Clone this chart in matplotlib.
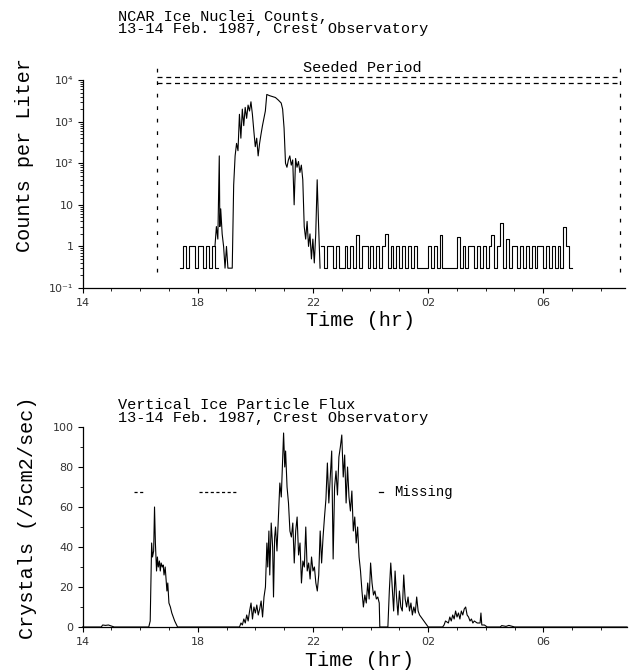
import numpy as np
import matplotlib
matplotlib.use("Agg")
import matplotlib.pyplot as plt
from matplotlib.ticker import FixedLocator, MultipleLocator, NullFormatter

# ---------------- data ----------------
# Top panel: ice nuclei counts (per liter)
ice_early_start = 17.4          # regular 0.1 hr samples
ice_early = [0.3, 1, 0.3, 1, 1, 0.3, 1, 1, 0.3, 1, 0.3, 1, 0.3]

ice_peak_t = [18.6, 18.65, 18.7, 18.75, 18.77, 18.8, 18.85, 18.9, 18.95, 19.0, 19.05, 19.1,
              19.2, 19.25, 19.3, 19.35, 19.4, 19.45, 19.5, 19.55, 19.6, 19.65, 19.7, 19.75,
              19.8, 19.85, 19.9, 19.95, 20.0, 20.05, 20.1, 20.15, 20.2, 20.25, 20.3, 20.35,
              20.4, 20.5, 20.6, 20.7, 20.8, 20.9, 20.95, 21.0, 21.05, 21.1, 21.15, 21.2,
              21.25, 21.3, 21.35, 21.4, 21.45, 21.5, 21.55, 21.6, 21.65, 21.7, 21.75, 21.8,
              21.85, 21.9, 21.95, 22.0, 22.05, 22.1, 22.15, 22.2, 22.25]
ice_peak_v = [1, 3, 1.5, 150, 3, 8, 2, 1, 0.3, 1, 0.3, 0.3,
              0.3, 30, 150, 300, 200, 1500, 400, 2000, 800, 2200, 1200, 2500,
              1800, 3000, 1500, 600, 250, 400, 150, 300, 500, 800, 1200, 1800,
              4500, 4200, 4000, 3800, 3300, 2800, 2000, 700, 100, 80, 120, 150,
              90, 120, 10, 130, 80, 110, 60, 90, 40, 3, 1.5, 4,
              1, 2, 0.5, 1.5, 0.4, 2, 40, 3, 0.3]

ice_tail_start = 22.3           # regular 0.1 hr samples
ice_tail = [1, 0.3, 1, 1, 0.3, 1, 0.3, 0.3, 1, 0.3, 1, 0.3, 1.9, 0.3, 1, 1, 0.3, 1, 0.3, 1,
            0.3, 1, 2, 0.3, 1, 0.3, 1, 0.3, 1, 0.3, 1, 0.3, 1, 0.3, 0.3, 0.3, 0.3, 1, 0.3, 1,
            0.3, 1.9, 0.3, 0.3, 0.3, 0.3, 0.3, 1.7, 0.3, 1, 0.3, 1, 1, 0.3, 1, 0.3, 1, 0.3,
            1, 1.9, 0.3, 1, 3.6, 0.3, 1.5, 0.3, 1, 1, 0.3, 1, 0.3, 1, 0.3, 1, 0.3, 1, 1, 0.3,
            1, 0.3, 1, 0.3, 1, 0.3, 3, 1, 0.3]

seed_start, seed_end = 16.57, 32.65

# Bottom panel: vertical ice particle flux (crystals /5cm2/sec)
flux_t = [14.0, 14.65, 14.7, 14.8, 14.9, 15.0, 15.1, 16.3, 16.35, 16.4, 16.43, 16.47, 16.5,
          16.53, 16.57, 16.6, 16.63, 16.67, 16.7, 16.73, 16.77, 16.8, 16.83, 16.87, 16.9,
          16.93, 16.96, 17.0, 17.05, 17.1, 17.2, 17.3,
          19.45, 19.5, 19.55, 19.6, 19.65, 19.7, 19.75, 19.8, 19.85, 19.9, 19.95, 20.0,
          20.05, 20.1, 20.15, 20.2, 20.25, 20.3, 20.35, 20.4, 20.43, 20.47, 20.5, 20.55,
          20.6, 20.63, 20.67, 20.7, 20.75, 20.8, 20.85, 20.9, 20.95, 20.98, 21.02, 21.05,
          21.1, 21.15, 21.2, 21.25, 21.3, 21.35, 21.4, 21.45, 21.5, 21.55, 21.6, 21.65,
          21.7, 21.75, 21.8, 21.85, 21.9, 21.95, 22.0, 22.05, 22.1, 22.15, 22.2, 22.25,
          22.3, 22.35, 22.4, 22.45, 22.5, 22.55, 22.6, 22.65, 22.7, 22.75, 22.8, 22.85,
          22.9, 22.95, 23.0, 23.05, 23.1, 23.15, 23.2, 23.25, 23.3, 23.35, 23.4, 23.45,
          23.5, 23.55, 23.6, 23.65, 23.7, 23.75, 23.8, 23.85, 23.9, 23.95, 24.0, 24.05,
          24.1, 24.15, 24.2, 24.25, 24.3, 24.32,
          24.6, 24.65, 24.7, 24.75, 24.8, 24.85, 24.9, 24.95, 25.0, 25.05, 25.1, 25.15,
          25.2, 25.25, 25.3, 25.35, 25.4, 25.45, 25.5, 25.55, 25.6, 25.65, 25.7, 25.8,
          25.9, 26.0,
          26.5, 26.55, 26.6, 26.7, 26.75, 26.8, 26.85, 26.9, 26.95, 27.0, 27.05, 27.1,
          27.15, 27.2, 27.25, 27.3, 27.35, 27.4, 27.45, 27.5, 27.55, 27.6, 27.7, 27.8,
          27.83, 27.86, 27.95, 28.05,
          28.5, 28.55, 28.7, 28.8, 29.0, 32.9]
flux_v = [0, 0, 1, 0.8, 1, 0.5, 0, 0, 3, 42, 35, 38, 60,
          42, 28, 35, 30, 33, 28, 32, 30, 31, 26, 30, 24,
          18, 22, 12, 10, 7, 3, 0,
          0, 2, 1, 4, 2, 6, 3, 8, 12, 4, 10, 7,
          11, 6, 9, 13, 5, 15, 20, 42, 30, 48, 26, 52,
          40, 15, 45, 50, 38, 55, 72, 65, 85, 97, 80, 88,
          70, 62, 48, 45, 52, 32, 48, 55, 36, 42, 22, 33,
          30, 50, 28, 32, 24, 35, 28, 30, 22, 18, 26, 48,
          32, 45, 55, 64, 82, 62, 75, 88, 34, 70, 78, 66,
          85, 90, 96, 75, 86, 62, 80, 65, 58, 68, 48, 55,
          42, 50, 35, 28, 18, 10, 16, 12, 22, 14, 32, 22,
          16, 18, 14, 15, 12, 0,
          0, 18, 32, 20, 8, 28, 15, 6, 18, 10, 8, 26,
          14, 10, 15, 8, 12, 6, 10, 7, 15, 8, 6, 4,
          2, 0,
          0, 1, 3, 2, 5, 3, 6, 4, 8, 5, 7, 4,
          8, 6, 9, 10, 6, 5, 3, 4, 2, 3, 2, 2,
          7, 1, 1, 0,
          0, 0.7, 0.3, 0.8, 0, 0]

missing_periods = [(15.8, 16.15), (18.06, 19.35)]
missing_level = 67.5

hour_ticks = [14, 18, 22, 26, 30]
hour_labels = ["14", "18", "22", "02", "06"]
log_ticks = [0.1, 1, 10, 100, 1000, 10000]
log_labels = ["10\u207b\u00b9", "1", "10", "10\u00b2", "10\u00b3", "10\u2074"]
flux_ticks = [0, 20, 40, 60, 80, 100]

top_title = "NCAR Ice Nuclei Counts,\n13-14 Feb. 1987, Crest Observatory"
bottom_title = "Vertical Ice Particle Flux\n13-14 Feb. 1987, Crest Observatory"

# ---------------- figure ----------------
W, H = 630, 670
fig = plt.figure(figsize=(W / 100, H / 100), dpi=100)


def fx(px):
    return px / W


def fy(py):
    return 1 - py / H


MONO = ["Liberation Mono", "DejaVu Sans Mono"]
TICKF = dict(family="DejaVu Sans", size=8, color="#333333")
LW = 0.8
ink = "black"

# ---- top axes ----
ax1 = fig.add_axes([fx(82.5), fy(288), fx(625 - 82.5), (288 - 63.4) / H])
ax1.set_yscale("log")
ax1.set_xlim(14, 32.84)
ax1.set_ylim(0.1, 10 ** 4.4)
for s in ("top", "right"):
    ax1.spines[s].set_visible(False)
ax1.spines["left"].set_bounds(0.1, 1e4)

ts = ice_early_start + 0.1 * np.arange(len(ice_early))
ax1.step(np.append(ts, ts[-1] + 0.1), ice_early + [ice_early[-1]], where="post", color=ink, lw=LW)
ax1.plot(ice_peak_t, ice_peak_v, color=ink, lw=LW)
tt = ice_tail_start + 0.1 * np.arange(len(ice_tail))
ax1.step(np.append(tt, tt[-1] + 0.1), ice_tail + [ice_tail[-1]], where="post", color=ink, lw=LW)

# seeded period markers
for xs in (seed_start, seed_end):
    ax1.plot([xs, xs], [10 ** -0.62, 10 ** 4.36], color=ink, lw=0.9, ls=(0, (3, 7)), clip_on=False)
for yv in (1.17e4, 8.5e3):
    ax1.plot([seed_start, seed_end], [yv, yv], color=ink, lw=0.9, ls=(0, (4, 3)), clip_on=False)
ax1.text(23.7, 10 ** 4.19, "Seeded Period", family=MONO, size=11, ha="center", va="baseline")

ax1.yaxis.set_major_locator(FixedLocator(log_ticks))
ax1.set_yticklabels(log_labels, **TICKF)
ax1.yaxis.set_minor_locator(FixedLocator([m * 10.0 ** e for e in range(-1, 4) for m in range(2, 10)]))
ax1.yaxis.set_minor_formatter(NullFormatter())

# ---- bottom axes ----
ax2 = fig.add_axes([fx(82.5), fy(627), fx(627 - 82.5), 200 / H])
ax2.set_xlim(14, 32.9)
ax2.set_ylim(0, 100)
for s in ("top", "right"):
    ax2.spines[s].set_visible(False)
ax2.plot(flux_t, flux_v, color=ink, lw=LW, clip_on=False)
for a, b in missing_periods:
    ax2.plot([a, b], [missing_level, missing_level], color=ink, lw=0.9, ls=(0, (2.5, 2)))
ax2.plot([24.28, 24.42], [missing_level, missing_level], color=ink, lw=0.9)
ax2.text(24.82, missing_level, "Missing", family=MONO, size=10, va="center")
ax2.yaxis.set_major_locator(FixedLocator(flux_ticks))
ax2.set_yticklabels([str(v) for v in flux_ticks], **TICKF)
ax2.yaxis.set_minor_locator(MultipleLocator(10))

for ax in (ax1, ax2):
    ax.xaxis.set_major_locator(FixedLocator(hour_ticks))
    ax.set_xticklabels(hour_labels, **TICKF)
    ax.xaxis.set_minor_locator(MultipleLocator(1))
    ax.tick_params(axis="both", which="major", direction="out", length=3.5, width=0.8, pad=3)
    ax.tick_params(axis="both", which="minor", direction="out", length=2.2, width=0.6)
    ax.tick_params(axis="x", which="major", pad=4)
    for s in ("left", "bottom"):
        ax.spines[s].set_linewidth(0.9)
    ax.set_facecolor("none")

# ---- titles and axis labels (multi-line: baseline refers to the last line) ----
fig.text(fx(118), fy(33), top_title, family=MONO, size=11, va="baseline", linespacing=0.82)
fig.text(fx(118), fy(422), bottom_title, family=MONO, size=11, va="baseline", linespacing=0.95)

fig.text(fx(361), fy(320), "Time (hr)", family=MONO, size=14.5, ha="center", va="center")
fig.text(fx(360), fy(660), "Time (hr)", family=MONO, size=14.5, ha="center", va="center")
fig.text(fx(25), fy(155), "Counts per Liter", family=MONO, size=14.5, ha="center", va="center",
         rotation=90)
fig.text(fx(28), fy(518), "Crystals (/5cm2/sec)", family=MONO, size=14.5, ha="center", va="center",
         rotation=90)

fig.savefig("out.png", dpi=100, facecolor="white")
